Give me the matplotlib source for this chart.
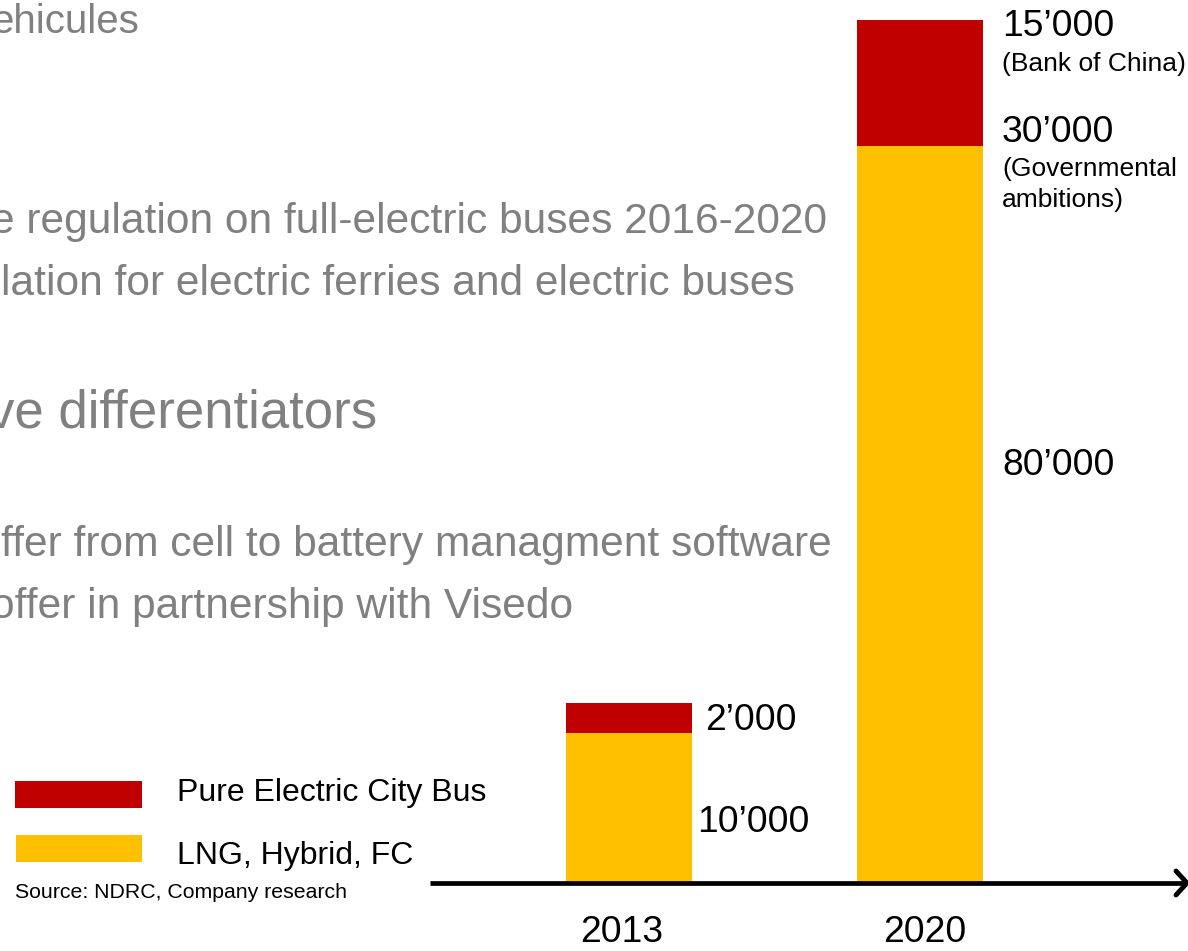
import matplotlib
matplotlib.use("Agg")
import matplotlib.pyplot as plt
from matplotlib.lines import Line2D
from matplotlib.patches import Rectangle

plt.rcParams['font.family'] = ['Liberation Sans', 'DejaVu Sans']

# ---- data ----
years = ["2013", "2020"]
lng_hybrid_fc = [10000, 49400]      # visual bar heights (orange)
pure_electric = [2000, 8450]        # visual bar heights (red)
lng_labels = ["10\u2019000", "80\u2019000"]
pe_labels = ["2\u2019000", "15\u2019000"]
series_names = ["Pure Electric City Bus", "LNG, Hybrid, FC"]
source_text = "Source: NDRC, Company research"

RED = "#C00000"
ORANGE = "#FFC000"
GRAY = "#808080"

W, H = 1188, 951
fig = plt.figure(figsize=(W / 100, H / 100), dpi=100)

def fx(px):
    return px / W

def fy(py):
    return 1 - (py + 2) / H   # small downward nudge for text centres

def fyb(py):
    return 1 - py / H

# ---- bar axes ----
base_py = 882
px_per_unit = 290.5
x_left = 0 - (629 - 430) / px_per_unit
x_right = 1 + (W - 919.5) / px_per_unit
ax = fig.add_axes([fx(430), fyb(base_py), fx(W - 430), base_py / H])
ax.set_xlim(x_left, x_right)
ax.set_ylim(0, base_py / 14.9 * 1000)
ax.axis("off")
pos = [0, 1]
bw = 126 / px_per_unit
ax.bar(pos, lng_hybrid_fc, width=bw, color=ORANGE, linewidth=0)
ax.bar(pos, pure_electric, width=bw, bottom=lng_hybrid_fc, color=RED, linewidth=0)

# ---- baseline arrow ----
fig.add_artist(Line2D([fx(430), fx(1186)], [fyb(883), fyb(883)],
                      transform=fig.transFigure, color="black", lw=3.4,
                      solid_capstyle="butt"))
fig.add_artist(Line2D([fx(1176), fx(1187), fx(1176)], [fyb(871), fyb(883), fyb(895)],
                      transform=fig.transFigure, color="black", lw=3.5,
                      solid_capstyle="round", solid_joinstyle="miter"))

# ---- value labels ----
fs_val = 26.8
fs_small = 19
fig.text(fx(705), fy(718), pe_labels[0], fontsize=fs_val, va="center", ha="left")
fig.text(fx(697), fy(820), lng_labels[0], fontsize=fs_val, va="center", ha="left")
fig.text(fx(1002), fy(24), pe_labels[1], fontsize=fs_val, va="center", ha="left")
fig.text(fx(1002), fy(62), "(Bank of China)", fontsize=fs_small, va="center", ha="left")
fig.text(fx(1002), fy(130), "30\u2019000", fontsize=fs_val, va="center", ha="left")
fig.text(fx(1002), fy(167), "(Governmental", fontsize=fs_small, va="center", ha="left")
fig.text(fx(1002), fy(198), "ambitions)", fontsize=fs_small, va="center", ha="left")
fig.text(fx(1002), fy(463), lng_labels[1], fontsize=fs_val, va="center", ha="left")

# ---- year labels ----
fig.text(fx(622), fy(931), years[0], fontsize=fs_val, va="center", ha="center")
fig.text(fx(925), fy(931), years[1], fontsize=fs_val, va="center", ha="center")

# ---- legend ----
fig.add_artist(Rectangle((fx(15), fyb(808)), fx(127), 27 / H,
                         transform=fig.transFigure, color=RED, lw=0))
fig.add_artist(Rectangle((fx(16), fyb(862)), fx(126), 27 / H,
                         transform=fig.transFigure, color=ORANGE, lw=0))
fig.text(fx(177), fy(791), series_names[0], fontsize=23, va="center", ha="left")
fig.text(fx(177), fy(854), series_names[1], fontsize=23, va="center", ha="left")
fig.text(fx(15), fy(891), source_text, fontsize=15.3, va="center", ha="left")

# ---- background gray slide text (cropped) ----
fs_g = 30.6
fig.text(fx(-9), fy(20), "ehicules", fontsize=29, color=GRAY, va="center", ha="left")
fig.text(fx(-9), fy(220), "e regulation on full-electric buses 2016-2020", fontsize=fs_g,
         color=GRAY, va="center", ha="left")
fig.text(fx(1), fy(282), "lation for electric ferries and electric buses", fontsize=fs_g,
         color=GRAY, va="center", ha="left")
fig.text(fx(-12), fy(412), "ve differentiators", fontsize=38, color=GRAY, va="center", ha="left")
fig.text(fx(1), fy(543), "ffer from cell to battery managment software", fontsize=fs_g,
         color=GRAY, va="center", ha="left")
fig.text(fx(-9), fy(605), "offer in partnership with Visedo", fontsize=fs_g,
         color=GRAY, va="center", ha="left")

fig.savefig("out.png", dpi=100)
